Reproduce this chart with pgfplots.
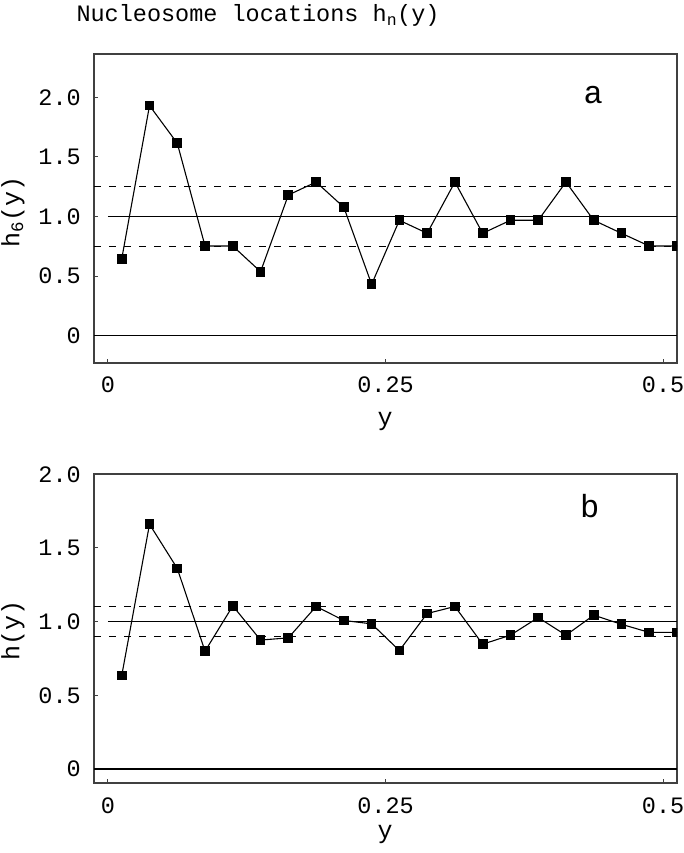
\documentclass[border=0pt]{standalone}
\usepackage{fontspec}
\setmainfont{Liberation Mono}
\usepackage{pgfplots}
\pgfplotsset{compat=1.18}
\begin{document}
\begin{tikzpicture}[x=1pt,y=1pt]
\path[use as bounding box] (0,0) rectangle (684,853);
\pgfplotsset{
  myaxis/.style={
    scale only axis, width=583pt, height=309pt,
    xmin=-0.0125, xmax=0.5125,
    axis line style={draw=black!75, line width=1.6pt},
    tick align=inside, tick style={black!75, line width=1pt},
    major tick length=4pt,
    xtick pos=bottom, ytick pos=left,
    xtick={0,0.25,0.5}, xticklabels={0,0.25,0.5},
    ytick={0,0.5,1,1.5,2}, yticklabels={0,0.5,1.0,1.5,2.0},
    tick label style={font=\fontsize{23.5}{26}\selectfont, inner sep=0pt},
    yticklabel shift=13pt, xticklabel shift=14pt,
    clip marker paths=true,
    anchor=south west,
  },
  dataline/.style={black, line width=1.1pt, mark=square*, mark size=4.3pt, mark options={solid, fill=black}},
  hline/.style={black, line width=1.1pt, no marks},
  dline/.style={black, line width=1.1pt, no marks, dash pattern=on 7pt off 8pt},
}
% Panel a
\begin{axis}[myaxis, at={(94pt,490pt)}, ymin=-0.229, ymax=2.363]
\addplot[hline] coordinates {(-0.0125,0) (0.5125,0)};
\addplot[hline] coordinates {(0,1) (0.5125,1)};
\addplot[dline] coordinates {(-0.0125,1.25) (0.5125,1.25)};
\addplot[dline] coordinates {(-0.0125,0.75) (0.5125,0.75)};
\addplot[dataline] coordinates {
(0.0125,0.646) (0.0375,1.930) (0.0625,1.614) (0.0875,0.752) (0.1125,0.752)
(0.1375,0.537) (0.1625,1.180) (0.1875,1.289) (0.2125,1.077) (0.2375,0.431)
(0.2625,0.968) (0.2875,0.859) (0.3125,1.289) (0.3375,0.859) (0.3625,0.968)
(0.3875,0.968) (0.4125,1.289) (0.4375,0.968) (0.4625,0.859) (0.4875,0.752)
(0.5125,0.752)};
\node[font=\fontsize{32}{36}\selectfont, anchor=base] at (axis cs:0.437,1.95) {a};
\end{axis}
% Panel b
\begin{axis}[myaxis, at={(94pt,69.7pt)}, ymin=-0.097, ymax=2.0]
\addplot[hline] coordinates {(-0.0125,0) (0.5125,0)};
\addplot[hline] coordinates {(0,1) (0.5125,1)};
\addplot[dline] coordinates {(-0.0125,1.1) (0.5125,1.1)};
\addplot[dline] coordinates {(-0.0125,0.9) (0.5125,0.9)};
\addplot[dataline] coordinates {
(0.0125,0.635) (0.0375,1.661) (0.0625,1.361) (0.0875,0.800) (0.1125,1.107)
(0.1375,0.875) (0.1625,0.890) (0.1875,1.103) (0.2125,1.008) (0.2375,0.985)
(0.2625,0.804) (0.2875,1.055) (0.3125,1.103) (0.3375,0.847) (0.3625,0.908)
(0.3875,1.028) (0.4125,0.908) (0.4375,1.044) (0.4625,0.982) (0.4875,0.927)
(0.5125,0.927)};
\node[font=\fontsize{32}{36}\selectfont, anchor=base] at (axis cs:0.434,1.71) {b};
\end{axis}
% Titles and labels
\node[anchor=base, font=\fontsize{23.5}{26}\selectfont] at (258,831.5) {Nucleosome locations h\textsubscript{n}(y)};
\node[rotate=90, font=\fontsize{25}{28}\selectfont] at (13,641) {h\textsubscript{6}(y)};
\node[rotate=90, font=\fontsize{25}{28}\selectfont] at (13,223) {h(y)};
\node[anchor=base, font=\fontsize{25}{28}\selectfont] at (385,427) {y};
\node[anchor=base, font=\fontsize{25}{28}\selectfont] at (385,14) {y};
\end{tikzpicture}
\end{document}
